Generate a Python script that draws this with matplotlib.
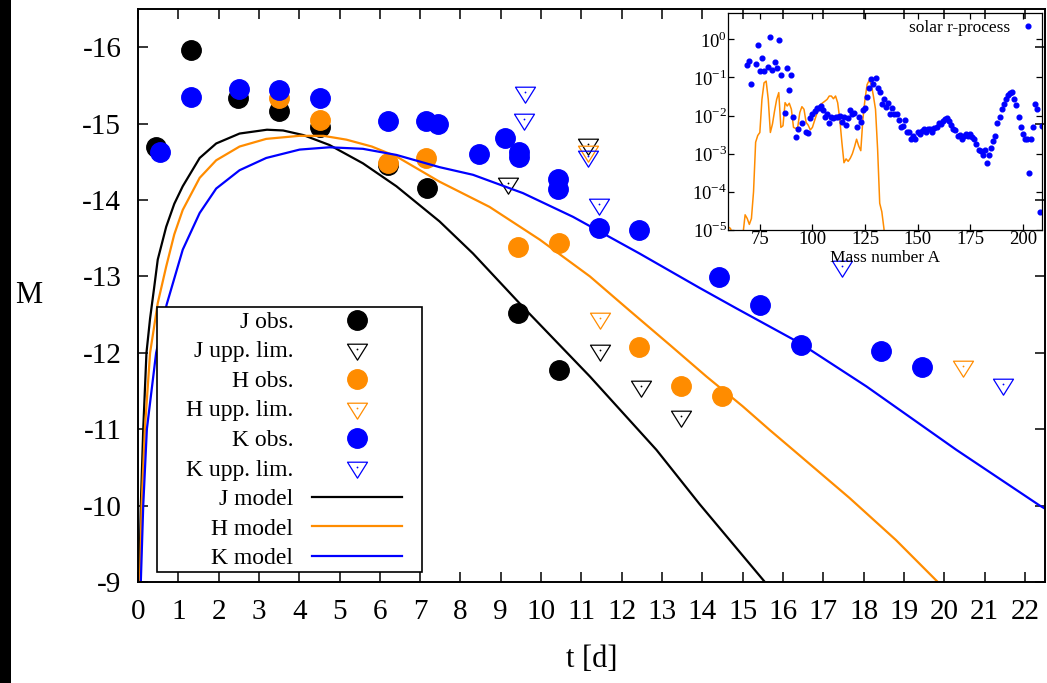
import matplotlib

matplotlib.use("Agg")

import matplotlib.pyplot as plt
from matplotlib.legend_handler import HandlerTuple
from matplotlib.patches import Rectangle
from matplotlib.path import Path
from matplotlib.ticker import NullLocator

plt.rcParams["font.family"] = ["Liberation Serif", "DejaVu Serif"]
plt.rcParams["mathtext.fontset"] = "custom"
plt.rcParams["mathtext.rm"] = "Liberation Serif"
plt.rcParams["axes.unicode_minus"] = False

# --- light curve: time since merger [d] vs absolute magnitude ---
j_obs_t = [0.45, 1.32, 2.48, 3.49, 4.51, 6.19, 7.16, 9.42, 10.44]
j_obs_m = [-14.70, -15.97, -15.33, -15.17, -14.96, -14.46, -14.16, -12.52, -11.78]
j_ul_t = [9.18, 11.16, 11.45, 12.47, 13.46]
j_ul_m = [-14.22, -14.73, -12.04, -11.56, -11.17]

h_obs_t = [3.49, 4.51, 6.21, 7.15, 9.43, 10.44, 12.44, 13.46, 14.48]
h_obs_m = [-15.34, -15.05, -14.49, -14.55, -13.38, -13.44, -12.07, -11.56, -11.44]
h_ul_t = [11.17, 11.45, 20.46]
h_ul_m = [-14.64, -12.45, -11.83]

k_obs_t = [0.54, 1.32, 2.50, 3.49, 4.51, 6.21, 7.15, 7.45, 8.45, 9.11, 9.45,
           9.45, 10.43, 10.43, 11.44, 12.43, 14.41, 15.44, 16.44, 18.44, 19.45]
k_obs_m = [-14.63, -15.35, -15.45, -15.44, -15.33, -15.04, -15.03, -15.00, -14.60,
           -14.81, -14.63, -14.56, -14.28, -14.14, -13.64, -13.61, -12.99, -12.63,
           -12.10, -12.02, -11.82]
k_ul_t = [9.59, 9.57, 11.17, 11.44, 17.47, 21.46]
k_ul_m = [-15.41, -15.06, -14.58, -13.95, -13.13, -11.59]

j_mod_t = [0.03, 0.07, 0.13, 0.21, 0.30, 0.40, 0.49, 0.70, 0.90, 1.11, 1.53, 1.94,
           2.52, 3.20, 3.60, 4.10, 4.75, 5.58, 6.41, 7.48, 8.31, 9.55, 11.21, 12.86,
           13.93, 15.55]
j_mod_m = [-9.0, -10.0, -11.0, -12.0, -12.45, -12.85, -13.22, -13.65, -13.95, -14.18,
           -14.55, -14.74, -14.87, -14.92, -14.91, -14.85, -14.72, -14.48, -14.18,
           -13.72, -13.30, -12.60, -11.69, -10.73, -10.02, -9.0]
h_mod_t = [0.05, 0.09, 0.17, 0.30, 0.49, 0.70, 0.90, 1.11, 1.53, 1.94, 2.52, 3.18,
           4.00, 4.60, 5.17, 5.80, 6.41, 7.48, 8.72, 9.97, 11.21, 12.20, 13.20, 14.10,
           15.00, 15.67, 16.25, 17.65, 18.80, 19.84]
h_mod_m = [-9.0, -10.0, -11.0, -12.0, -12.65, -13.13, -13.55, -13.87, -14.29, -14.52,
           -14.70, -14.80, -14.84, -14.84, -14.79, -14.70, -14.57, -14.24, -13.91,
           -13.48, -13.00, -12.55, -12.10, -11.69, -11.30, -10.99, -10.73, -10.10,
           -9.55, -9.0]
k_mod_t = [0.07, 0.13, 0.22, 0.45, 0.71, 1.11, 1.53, 1.94, 2.52, 3.18, 4.01, 4.75,
           5.58, 6.41, 7.48, 8.31, 9.55, 10.79, 12.44, 13.93, 14.85, 16.41, 18.07,
           20.30, 22.37, 22.50]
k_mod_m = [-9.0, -10.0, -11.0, -12.0, -12.63, -13.35, -13.83, -14.15, -14.39, -14.55,
           -14.66, -14.69, -14.67, -14.59, -14.43, -14.33, -14.09, -13.78, -13.30,
           -12.85, -12.58, -12.13, -11.56, -10.73, -10.00, -9.96]

t_ticks = list(range(0, 23))
m_ticks = [-16, -15, -14, -13, -12, -11, -10, -9]

# --- inset: abundances vs mass number ---
solar_a = [69, 70, 71, 73, 74, 75, 76, 77, 79, 80, 81, 82, 83, 84, 85, 87, 88, 89,
           90, 91, 92, 93, 95, 97, 98, 99, 100, 101, 102, 103, 104, 105, 106, 107,
           108, 109, 110, 111, 112, 113, 114, 115, 116, 117, 118, 119, 120, 121, 122,
           123, 124, 125, 126, 127, 128, 129, 130, 131, 132, 133, 134, 135, 136, 137,
           138, 139, 140, 141, 142, 143, 144, 145, 146, 147, 148, 149, 150, 151, 152,
           153, 154, 155, 156, 157, 158, 159, 160, 161, 162, 163, 164, 165, 166, 167,
           168, 169, 170, 171, 172, 173, 174, 175, 176, 177, 178, 179, 180, 181, 182,
           183, 184, 185, 186, 187, 188, 189, 190, 191, 192, 193, 194, 195, 196, 197,
           198, 199, 200, 201, 202, 203, 204, 205, 206, 207, 208, 209]
solar_y = [0.207, 0.263, 0.0678, 0.229, 0.713, 0.145, 0.321, 0.145, 0.187, 1.13,
           0.16, 0.25, 0.177, 0.96, 0.119, 0.012, 0.177, 0.048, 0.116, 0.0094, 0.0027,
           0.0044, 0.0065, 0.0038, 0.0035, 0.0084, 0.0108, 0.0132, 0.0155, 0.0155,
           0.0178, 0.0138, 0.0089, 0.0108, 0.0062, 0.0094, 0.0087, 0.0090, 0.0094,
           0.0098, 0.0068, 0.0094, 0.0056, 0.0085, 0.0138, 0.0108, 0.012, 0.0049,
           0.0089, 0.0066, 0.0138, 0.0158, 0.0305, 0.0534, 0.0933, 0.069, 0.097,
           0.0534, 0.042, 0.0197, 0.0266, 0.0171, 0.0218, 0.0113, 0.0158, 0.0108,
           0.0113, 0.0076, 0.0049, 0.0052, 0.0077, 0.0038, 0.0038, 0.0024, 0.0030,
           0.0024, 0.0036, 0.0033, 0.0040, 0.0044, 0.0038, 0.0044, 0.0044, 0.0036,
           0.0046, 0.0049, 0.0062, 0.0060, 0.0073, 0.0081, 0.0087, 0.0073, 0.0056,
           0.0044, 0.0042, 0.0030, 0.0031, 0.0025, 0.0030, 0.0033, 0.0030, 0.0033,
           0.0027, 0.0024, 0.0018, 0.00128, 0.0012, 0.00093, 0.00128, 0.00057,
           0.00091, 0.00139, 0.0022, 0.0030, 0.0063, 0.0094, 0.0146, 0.0197, 0.0266,
           0.0337, 0.0396, 0.0412, 0.0276, 0.0185, 0.0089, 0.0049, 0.0033, 0.0025,
           0.0025, 0.00032, 0.0025, 0.0049, 0.0197, 0.0146, 3.0e-5, 0.0052]

model_a = [60, 61, 62, 64, 66, 67, 68, 69, 70, 71, 72, 73, 74, 75, 76, 77, 78, 79,
           80, 81, 82, 83, 84, 85, 86, 87, 88, 89, 90, 91, 92, 93, 94, 95, 96, 97,
           98, 99, 100, 101, 102, 103, 104, 105, 106, 107, 108, 109, 110, 111, 112,
           113, 114, 115, 116, 117, 118, 119, 120, 121, 122, 123, 124, 125, 126, 127,
           128, 129, 130, 131, 132, 133, 134, 135, 136]
model_y = [1.2e-5, 1.1e-5, 8e-6, 3e-6, 3e-6, 8e-6, 2.5e-5, 2.0e-5, 1.4e-5, 2.0e-5,
           1e-4, 2e-3, 3e-3, 3.6e-3, 0.0266, 0.072, 0.08, 0.0266, 3.6e-3, 6e-3,
           0.0132, 0.0266, 0.04, 4.9e-3, 5.4e-3, 0.0218, 0.0178, 0.021, 0.0146,
           4.9e-3, 4.6e-3, 4.9e-3, 0.012, 0.0171, 0.0146, 6.6e-3, 5.6e-3, 4.2e-3,
           4.9e-3, 7.3e-3, 0.0108, 0.0146, 0.0197, 0.0218, 0.024, 0.0266, 0.0325,
           0.0325, 0.0276, 0.0325, 0.0218, 8.1e-3, 2e-3, 5.8e-4, 7.3e-4, 6.3e-4,
           7.6e-4, 1e-3, 1.5e-3, 2.4e-3, 1.6e-3, 1.2e-3, 8.1e-3, 0.0266, 0.065,
           0.084, 0.065, 0.0325, 0.0146, 1.3e-3, 5e-5, 3e-5, 1.1e-5, 2.8e-6, 1e-6]

a_ticks = [75, 100, 125, 150, 175, 200]
y_ticks = [1e-5, 1e-4, 1e-3, 1e-2, 1e-1, 1e0]
y_tick_labels = ["$10^{-5}$", "$10^{-4}$", "$10^{-3}$", "$10^{-2}$", "$10^{-1}$", "$10^{0}$"]

BLACK = "#000000"
ORANGE = "#ff8c00"
BLUE = "#0000ff"

# downward triangle with the data point at its centroid (where the dot sits)
tri_marker = Path([(-10, 5.3), (10, 5.3), (0, -10.7), (-10, 5.3)], closed=True)

fig = plt.figure(figsize=(10.47, 6.83), dpi=100)
fig.patches.append(Rectangle((0, 0), 11 / 1047, 1, transform=fig.transFigure,
                             facecolor="black", edgecolor="none"))
ax = fig.add_axes([0.1318, 0.1479, 0.8663, 0.8389])


def obs(t, m, color):
    return ax.plot(t, m, linestyle="none", marker="o", ms=14, mfc=color, mec=color)[0]


def upper(t, m, color):
    tri = ax.plot(t, m, linestyle="none", marker=tri_marker, ms=15.4, mfc="none",
                  mec=color, mew=0.9)[0]
    dot = ax.plot(t, m, linestyle="none", marker="o", ms=1.3, mfc=color, mec="none")[0]
    return (tri, dot)


h_jo = obs(j_obs_t, j_obs_m, BLACK)
h_ju = upper(j_ul_t, j_ul_m, BLACK)
h_ho = obs(h_obs_t, h_obs_m, ORANGE)
h_hu = upper(h_ul_t, h_ul_m, ORANGE)
h_ko = obs(k_obs_t, k_obs_m, BLUE)
h_ku = upper(k_ul_t, k_ul_m, BLUE)
h_jm, = ax.plot(j_mod_t, j_mod_m, color=BLACK, lw=1.6)
h_hm, = ax.plot(h_mod_t, h_mod_m, color=ORANGE, lw=1.6)
h_km, = ax.plot(k_mod_t, k_mod_m, color=BLUE, lw=1.6)

ax.set_xlim(0, 22.5)
ax.set_ylim(-9, -16.5)
ax.set_xticks(t_ticks)
ax.set_yticks(m_ticks)
ax.tick_params(direction="in", length=7, width=1.1, top=True, right=True,
               labelsize=21, pad=12)
for sp in ax.spines.values():
    sp.set_linewidth(1.4)
ax.set_xlabel("t [d]", fontsize=22)
ax.xaxis.set_label_coords(0.5, -0.136)
ax.xaxis.label.set_va("center")
ax.set_ylabel("M", fontsize=22, rotation=0)
ax.yaxis.set_label_coords(-0.121, 0.5)
ax.yaxis.label.set_va("center")

# key box drawn separately so its padding can be set freely
ax.add_patch(Rectangle((0.0209, 0.0175), 0.2922, 0.4625, transform=ax.transAxes,
                       facecolor="white", edgecolor="black", lw=1.2, zorder=4))
leg = ax.legend(
    [h_jo, h_ju, h_ho, h_hu, h_ko, h_ku, h_jm, h_hm, h_km],
    ["J obs.", "J upp. lim.", "H obs.", "H upp. lim.", "K obs.", "K upp. lim.",
     "J model", "H model", "K model"],
    loc="center right", bbox_to_anchor=(0.2911, 0.2473), frameon=False,
    markerfirst=False, numpoints=1, handlelength=3.8, handletextpad=0.8,
    labelspacing=0.34, borderpad=0, borderaxespad=0, fontsize=17,
    handler_map={tuple: HandlerTuple(ndivide=1)},
)
leg.set_zorder(5)

# inset panel
ax_in = fig.add_axes([0.6956, 0.6633, 0.2993, 0.3182], facecolor="none")
ax_in.plot(model_a, model_y, color=ORANGE, lw=1.1)
ax_in.plot(solar_a, solar_y, linestyle="none", marker="o", ms=3.4, mfc=BLUE, mec=BLUE,
           label="solar r-process")
ax_in.set_yscale("log")
ax_in.set_xlim(60, 209)
ax_in.set_ylim(1e-5, 5)
ax_in.set_xticks(a_ticks)
ax_in.set_yticks(y_ticks)
ax_in.set_yticklabels(y_tick_labels)
ax_in.yaxis.set_minor_locator(NullLocator())
ax_in.tick_params(direction="in", length=4, width=0.9, top=True, right=True,
                  labelsize=13.5, pad=1)
ax_in.tick_params(axis="x", pad=0.5)
for sp in ax_in.spines.values():
    sp.set_linewidth(0.9)
ax_in.set_xlabel("Mass number A", fontsize=12.5)
ax_in.xaxis.set_label_coords(0.5, -0.13)
ax_in.xaxis.label.set_va("center")
ax_in.legend(loc="upper right", frameon=False, markerfirst=False, fontsize=12.5,
             handlelength=0.8, handletextpad=0.6, borderaxespad=0.3, borderpad=0.1)

fig.savefig("out.png", dpi=100)
